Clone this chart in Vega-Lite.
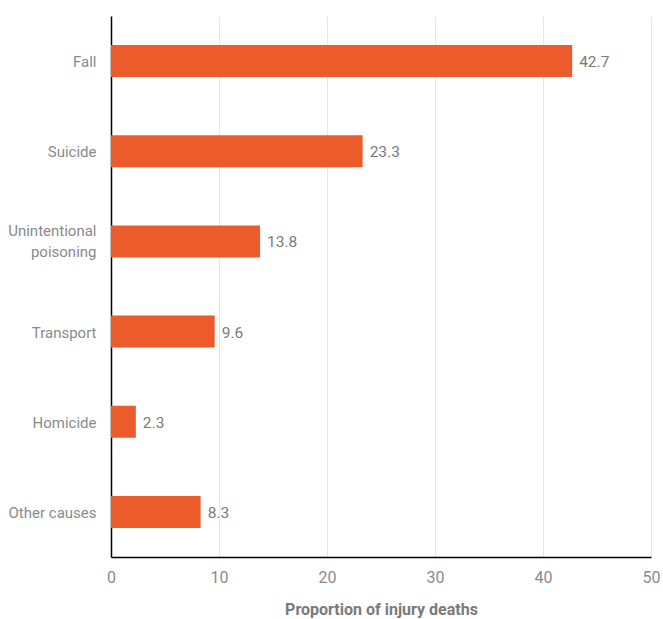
{
  "$schema": "https://vega.github.io/schema/vega-lite/v6.json",
  "autosize": "none",
  "width": 540,
  "height": 541,
  "padding": {"left": 111, "top": 16, "right": 12, "bottom": 62},
  "background": "white",
  "config": {
    "view": {"stroke": null},
    "font": "Roboto"
  },
  "data": {
    "values": [
      {"cause": "Fall", "value": 42.7},
      {"cause": "Suicide", "value": 23.3},
      {"cause": "Unintentional poisoning", "value": 13.8},
      {"cause": "Transport", "value": 9.6},
      {"cause": "Homicide", "value": 2.3},
      {"cause": "Other causes", "value": 8.3}
    ]
  },
  "encoding": {
    "y": {
      "field": "cause",
      "type": "nominal",
      "sort": null,
      "scale": {"paddingInner": 0, "paddingOuter": 0},
      "axis": {
        "title": null,
        "domainColor": "#000000",
        "domainWidth": 1.5,
        "ticks": false,
        "labelPadding": 15,
        "labelFontSize": 15,
        "labelColor": "#8a8a8a",
        "labelLineHeight": 21,
        "labelOffset": {"condition": {"test": "datum.value == 'Unintentional poisoning'", "value": -10}, "value": 1},
        "labelExpr": "datum.label == 'Unintentional poisoning' ? ['Unintentional', 'poisoning'] : datum.label",
        "grid": false
      }
    },
    "x": {
      "field": "value",
      "type": "quantitative",
      "scale": {"domain": [0, 50], "nice": false},
      "axis": {
        "title": "Proportion of injury deaths",
        "values": [0, 10, 20, 30, 40, 50],
        "domainColor": "#000000",
        "domainWidth": 1.5,
        "ticks": false,
        "labelFlush": false,
        "labelPadding": 12,
        "labelFontSize": 16,
        "labelColor": "#8a8a8a",
        "grid": true,
        "gridColor": "#e6e6e6",
        "gridWidth": 1,
        "titleFontSize": 16,
        "titleFontWeight": "bold",
        "titleColor": "#7a7a7a",
        "titlePadding": 16
      }
    }
  },
  "layer": [
    {"mark": {"type": "bar", "size": 32, "color": "#EC5B2B"}},
    {
      "mark": {"type": "text", "align": "left", "baseline": "middle", "dx": 7, "dy": 1, "fontSize": 15.5, "color": "#7a7a7a"},
      "encoding": {"text": {"field": "value", "type": "quantitative", "format": ".1f"}}
    }
  ]
}
